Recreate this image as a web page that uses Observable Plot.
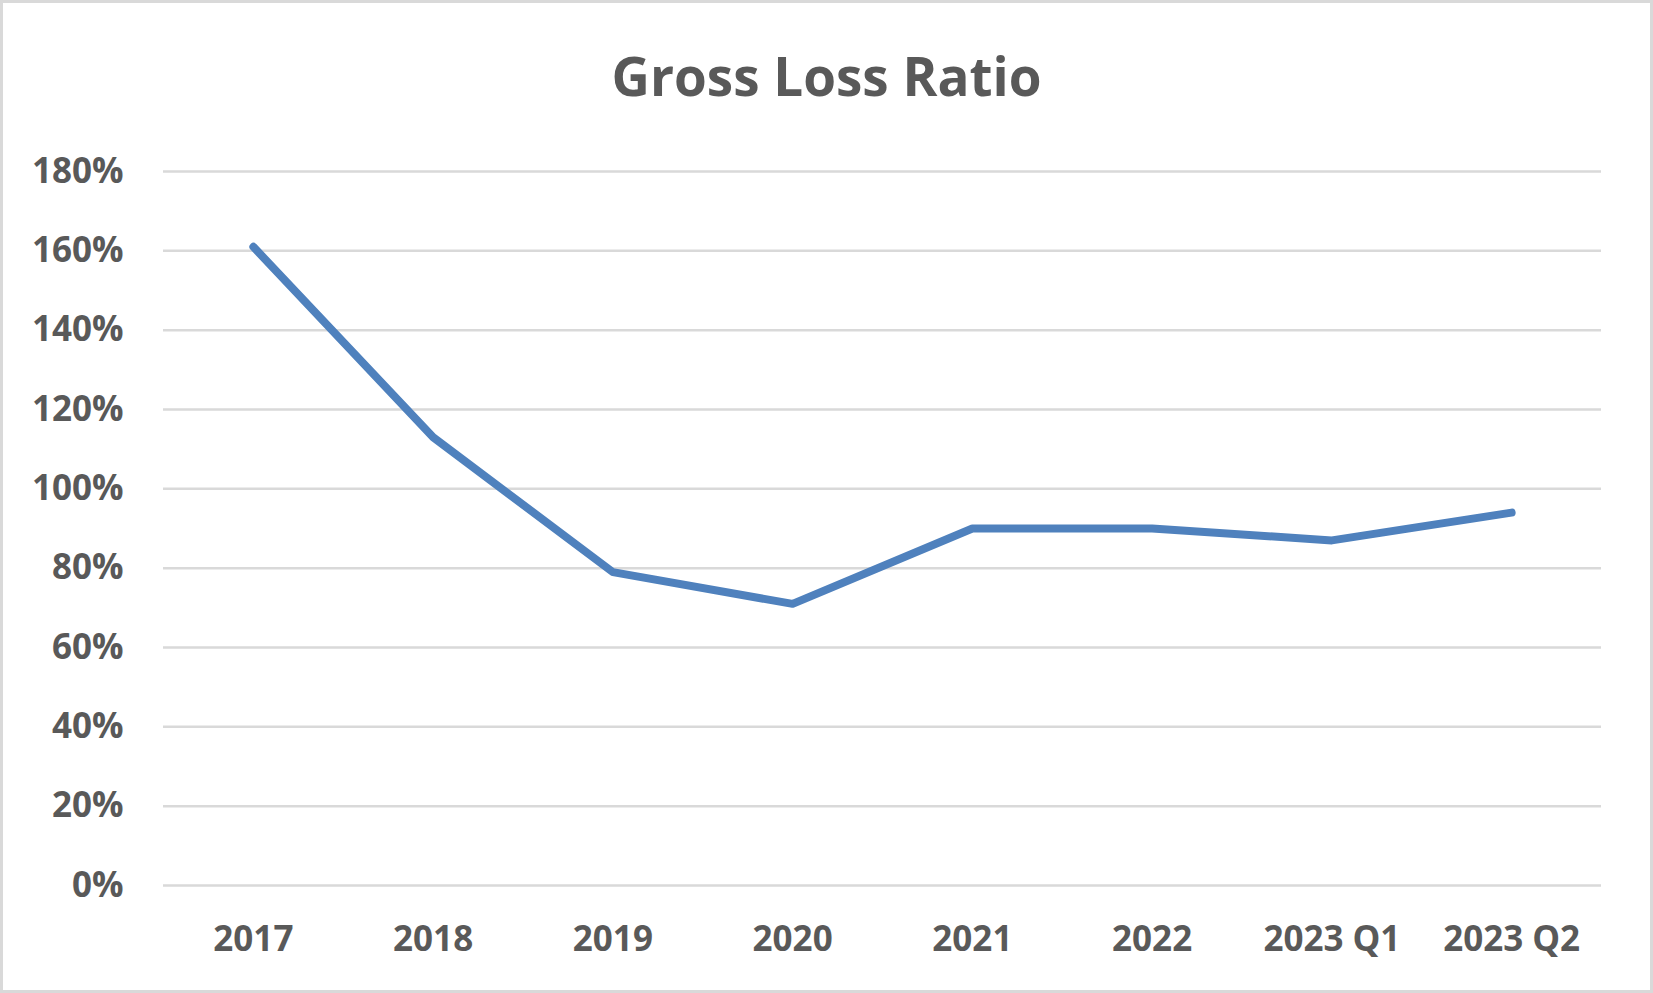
<!DOCTYPE html>
<html>
<head>
<meta charset="utf-8">
<script src="https://cdn.jsdelivr.net/npm/d3@7"></script>
<script src="https://cdn.jsdelivr.net/npm/@observablehq/plot@0.6"></script>
<style>
  body { margin: 0; background: #fff; }
  #chart {
    position: relative; width: 1653px; height: 993px;
    box-shadow: inset 0 0 0 3px #d9d9d9; overflow: hidden;
    font-family: "Open Sans", sans-serif;
  }
  #title {
    height: 130px; box-sizing: border-box; padding-top: 49px; margin: 0;
    font-size: 53px; line-height: 54px; font-weight: 700; color: #595959;
    text-align: center;
  }
</style>
</head>
<body>
<div id="chart"><div id="title">Gross Loss Ratio</div></div>
<script>
// Data
const categories = ["2017", "2018", "2019", "2020", "2021", "2022", "2023 Q1", "2023 Q2"];
const grossLossRatioPct = [161, 113, 79, 71, 90, 90, 87, 94];
const yTicks = [0, 20, 40, 60, 80, 100, 120, 140, 160, 180];

const data = categories.map((c, i) => ({period: c, value: grossLossRatioPct[i]}));

const chart = Plot.plot({
  width: 1653,
  height: 863,
  marginLeft: 163,
  marginRight: 52,
  marginTop: 41,
  marginBottom: 108,
  style: {
    fontFamily: "Open Sans, sans-serif",
    color: "#595959",
    background: "transparent",
    overflow: "visible"
  },
  x: {type: "point", domain: categories, padding: 0.5, round: false, label: null},
  y: {domain: [0, 180], label: null},
  marks: [
    Plot.gridY(yTicks, {stroke: "#d9d9d9", strokeOpacity: 1, strokeWidth: 2.5}),
    Plot.axisY(yTicks, {
      tickSize: 0, tickPadding: 40, fontSize: 35, fontWeight: "bold",
      tickFormat: d => d + "%", label: null
    }),
    Plot.axisX({
      tickSize: 0, tickPadding: 41, fontSize: 35, fontWeight: "bold", label: null
    }),
    Plot.line(data, {
      x: "period", y: "value", stroke: "#4f81bd", strokeWidth: 8,
      strokeLinecap: "round", strokeLinejoin: "round"
    })
  ]
});
document.getElementById("chart").appendChild(chart);
</script>
</body>
</html>
